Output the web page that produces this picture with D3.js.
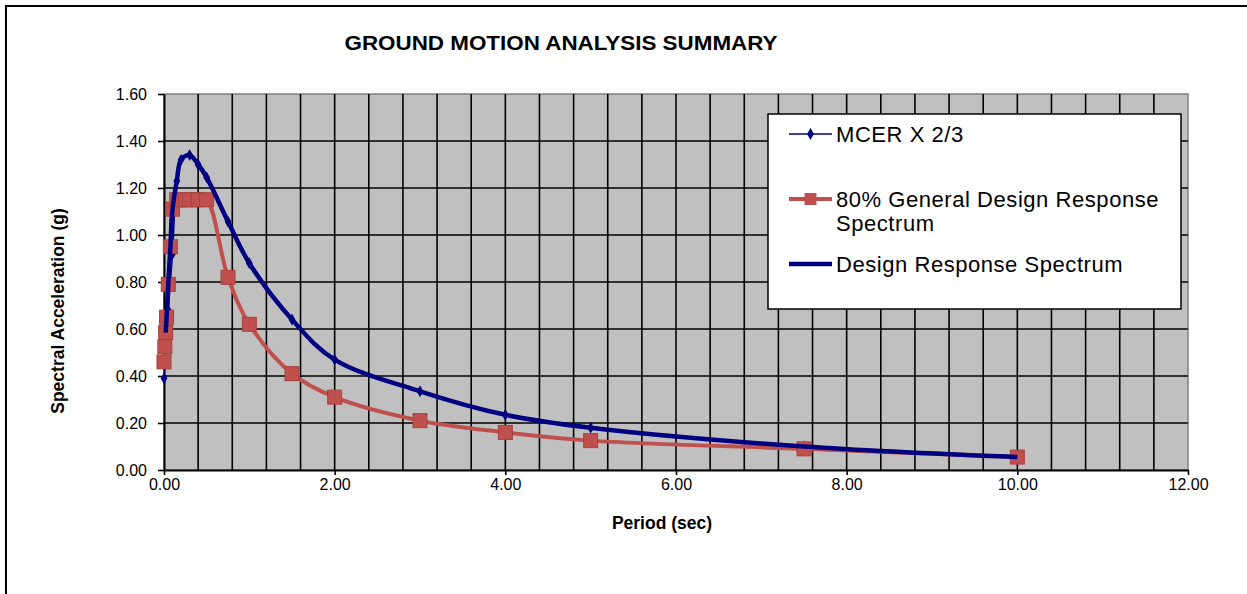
<!DOCTYPE html>
<html>
<head>
<meta charset="utf-8">
<script src="https://cdn.jsdelivr.net/npm/d3@7"></script>
<style>
  body { margin: 0; background: #fff; }
  svg { display: block; font-family: "Liberation Sans", Arial, sans-serif; }
</style>
</head>
<body>
<svg id="chart" width="1247" height="594"></svg>
<script>
// Spectral acceleration (g) against period (sec)
const mcerPeriods = [0, 0.05, 0.075, 0.1, 0.15, 0.2, 0.3, 0.4, 0.5, 0.75, 1, 1.5, 2, 3, 4, 5, 7.5, 10];
const mcerValues  = [0.39, 0.68, 0.80, 0.92, 1.23, 1.32, 1.34, 1.30, 1.245, 1.057, 0.88, 0.64, 0.47, 0.335, 0.235, 0.18, 0.10, 0.055];

const generalPeriods = [0, 0.01, 0.02, 0.03, 0.05, 0.075, 0.1, 0.15, 0.2, 0.25, 0.3, 0.4, 0.5, 0.75, 1, 1.5, 2, 3, 4, 5, 7.5, 10];
const general80Values = [0.46, 0.525, 0.585, 0.65, 0.79, 0.95, 1.11, 1.15, 1.15, 1.15, 1.15, 1.15, 1.15, 0.82, 0.62, 0.41, 0.31, 0.21, 0.16, 0.125, 0.09, 0.055];

const designPeriods = [0.02, 0.03, 0.05, 0.075, 0.1, 0.15, 0.2, 0.3, 0.4, 0.5, 0.75, 1, 1.5, 2, 3, 4, 5, 7.5, 10];
const designValues  = [0.585, 0.65, 0.79, 0.95, 1.11, 1.23, 1.32, 1.34, 1.30, 1.245, 1.057, 0.88, 0.64, 0.47, 0.335, 0.235, 0.18, 0.10, 0.055];

const xTickValues = [0, 2, 4, 6, 8, 10, 12];
const yTickValues = [0, 0.2, 0.4, 0.6, 0.8, 1.0, 1.2, 1.4, 1.6];
const legendLabels = ["MCER X 2/3", ["80% General Design Response", "Spectrum"], "Design Response Spectrum"];

const titleText = "GROUND MOTION ANALYSIS SUMMARY";
const xTitle = "Period (sec)";
const yTitle = "Spectral Acceleration (g)";

const NAVY = "#000080";
const RED = "#C0504D";

const svg = d3.select("#chart");
const plot = { left: 164, right: 1188, top: 94, bottom: 470 };

const x = d3.scaleLinear().domain([0, 12]).range([plot.left, plot.right]);
const y = d3.scaleLinear().domain([0, 1.6]).range([plot.bottom, plot.top]);

// outer frame (continues past the page edges on right and bottom)
svg.append("rect")
  .attr("x", 6).attr("y", 6).attr("width", 1260).attr("height", 600)
  .attr("fill", "#fff").attr("stroke", "#000").attr("stroke-width", 2);

// title
svg.append("text")
  .attr("x", 561).attr("y", 50)
  .attr("text-anchor", "middle")
  .attr("font-size", 20).attr("font-weight", "bold")
  .attr("textLength", 433).attr("lengthAdjust", "spacingAndGlyphs")
  .text(titleText);

// plot area
svg.append("rect")
  .attr("x", plot.left).attr("y", plot.top)
  .attr("width", plot.right - plot.left).attr("height", plot.bottom - plot.top)
  .attr("fill", "#C0C0C0").attr("stroke", "#808080").attr("stroke-width", 1.5);

// grid
const grid = svg.append("g").attr("stroke", "#000").attr("stroke-width", 1.6);
grid.selectAll("line.v")
  .data(d3.range(1, 30).map(i => i * 0.4))
  .join("line").attr("class", "v")
  .attr("x1", d => x(d)).attr("x2", d => x(d))
  .attr("y1", plot.top).attr("y2", plot.bottom);
grid.selectAll("line.h")
  .data(yTickValues.filter(v => v > 0 && v < 1.6))
  .join("line").attr("class", "h")
  .attr("x1", plot.left).attr("x2", plot.right)
  .attr("y1", d => y(d)).attr("y2", d => y(d));

// axes
const xAxis = svg.append("g")
  .attr("transform", `translate(0,${plot.bottom})`)
  .call(d3.axisBottom(x).tickValues(xTickValues).tickFormat(d3.format(".2f"))
    .tickSizeInner(5).tickSizeOuter(0).tickPadding(4));
const yAxis = svg.append("g")
  .attr("transform", `translate(${plot.left},0)`)
  .call(d3.axisLeft(y).tickValues(yTickValues).tickFormat(d3.format(".2f"))
    .tickSizeInner(6).tickSizeOuter(0).tickPadding(11));
[xAxis, yAxis].forEach(g => {
  g.selectAll("path.domain").attr("stroke", "#000").attr("stroke-width", 2);
  g.selectAll(".tick line").attr("stroke", "#000").attr("stroke-width", 1.6);
  g.selectAll(".tick text").attr("fill", "#000").attr("font-size", 16)
    .attr("font-family", "'Liberation Sans', Arial, sans-serif");
});

// axis titles
svg.append("text")
  .attr("x", 662).attr("y", 529)
  .attr("text-anchor", "middle").attr("font-size", 17.5).attr("font-weight", "bold")
  .text(xTitle);
svg.append("text")
  .attr("transform", "translate(64,311) rotate(-90)")
  .attr("text-anchor", "middle").attr("font-size", 17.5).attr("font-weight", "bold")
  .text(yTitle);

// series
const curve = d3.curveCatmullRom.alpha(0.5);
const line = d3.line().x(d => x(d[0])).y(d => y(d[1])).curve(curve);
const mcerData = mcerPeriods.map((t, i) => [t, mcerValues[i]]);
const generalData = generalPeriods.map((t, i) => [t, general80Values[i]]);
const designData = designPeriods.map((t, i) => [t, designValues[i]]);

const diamond = d3.symbol().type(d3.symbolDiamond).size(40);

const s1 = svg.append("g");
s1.append("path").datum(mcerData).attr("d", line)
  .attr("fill", "none").attr("stroke", NAVY).attr("stroke-width", 1.5);
s1.selectAll("path.pt").data(mcerData).join("path").attr("class", "pt")
  .attr("d", diamond).attr("transform", d => `translate(${x(d[0])},${y(d[1])})`)
  .attr("fill", NAVY);

const s2 = svg.append("g");
s2.append("path").datum(generalData).attr("d", line)
  .attr("fill", "none").attr("stroke", RED).attr("stroke-width", 4);
s2.selectAll("rect.pt").data(generalData).join("rect").attr("class", "pt")
  .attr("x", d => x(d[0]) - 7).attr("y", d => y(d[1]) - 7)
  .attr("width", 14).attr("height", 14)
  .attr("fill", RED).attr("stroke", "#a8403d").attr("stroke-width", 1);

svg.append("path").datum(designData).attr("d", line)
  .attr("fill", "none").attr("stroke", NAVY).attr("stroke-width", 4.5)
  .attr("stroke-linejoin", "round");

// legend
const legend = svg.append("g");
legend.append("rect")
  .attr("x", 768).attr("y", 114).attr("width", 413).attr("height", 195)
  .attr("fill", "#fff").attr("stroke", "#000").attr("stroke-width", 1.5);
const lx1 = 789, lx2 = 832, tx = 836;
// MCER entry
legend.append("line").attr("x1", lx1).attr("x2", lx2).attr("y1", 134).attr("y2", 134)
  .attr("stroke", NAVY).attr("stroke-width", 1.5);
legend.append("path").attr("d", diamond).attr("transform", `translate(${(lx1 + lx2) / 2},134)`)
  .attr("fill", NAVY);
// 80% general entry
legend.append("line").attr("x1", lx1).attr("x2", lx2).attr("y1", 199).attr("y2", 199)
  .attr("stroke", RED).attr("stroke-width", 4);
legend.append("rect").attr("x", (lx1 + lx2) / 2 - 6).attr("y", 193).attr("width", 12).attr("height", 12)
  .attr("fill", RED);
// design entry
legend.append("line").attr("x1", lx1).attr("x2", lx2).attr("y1", 264).attr("y2", 264)
  .attr("stroke", NAVY).attr("stroke-width", 4.5);

const legendText = legend.append("g").attr("font-size", 22).attr("letter-spacing", 0.55).attr("fill", "#000");
legendText.append("text").attr("x", tx).attr("y", 142).text(legendLabels[0]);
legendText.append("text").attr("x", tx).attr("y", 207).text(legendLabels[1][0]);
legendText.append("text").attr("x", tx).attr("y", 231).text(legendLabels[1][1]);
legendText.append("text").attr("x", tx).attr("y", 272).text(legendLabels[2]);
</script>
</body>
</html>
